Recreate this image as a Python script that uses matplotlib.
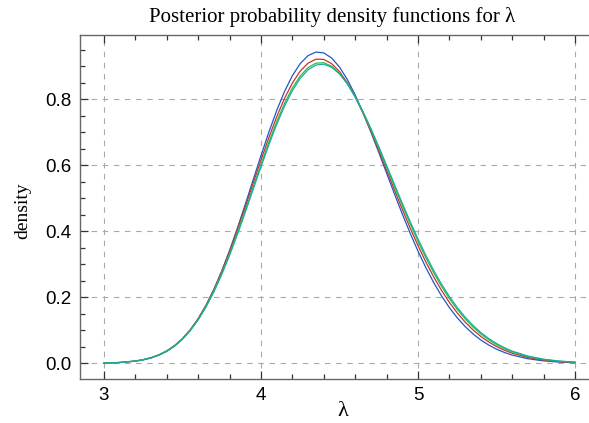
import matplotlib
matplotlib.use("Agg")
import matplotlib.pyplot as plt
from matplotlib.ticker import MultipleLocator

# lambda grid the densities were read at (finer where the curves bend)
lam = [3.0, 3.1, 3.2, 3.25, 3.3, 3.35, 3.4, 3.45, 3.5, 3.55, 3.6, 3.65,
       3.7, 3.75, 3.8, 3.85, 3.9, 3.95, 4.0, 4.05, 4.1, 4.15, 4.2, 4.25,
       4.3, 4.35, 4.4, 4.45, 4.5, 4.55, 4.6, 4.65, 4.7, 4.75, 4.8, 4.85,
       4.9, 4.95, 5.0, 5.05, 5.1, 5.15, 5.2, 5.25, 5.3, 5.35, 5.4, 5.45,
       5.5, 5.55, 5.6, 5.7, 5.8, 5.9, 6.0]

dens_blue = [0.0007, 0.0023, 0.0064, 0.0104, 0.0162, 0.0246, 0.0363, 0.0523,
             0.0734, 0.1004, 0.1343, 0.1752, 0.2237, 0.2794, 0.3418, 0.4098,
             0.4816, 0.5555, 0.6290, 0.6998, 0.7653, 0.8231, 0.8711, 0.9077,
             0.9317, 0.9424, 0.9398, 0.9243, 0.8970, 0.8592, 0.8125, 0.7589,
             0.7003, 0.6387, 0.5757, 0.5130, 0.4521, 0.3940, 0.3397, 0.2897,
             0.2444, 0.2041, 0.1686, 0.1378, 0.1115, 0.0892, 0.0707, 0.0554,
             0.0429, 0.0329, 0.0249, 0.0139, 0.0074, 0.0037, 0.0018]

dens_red = [0.0008, 0.0025, 0.0070, 0.0111, 0.0172, 0.0258, 0.0379, 0.0541,
            0.0753, 0.1024, 0.1359, 0.1763, 0.2238, 0.2782, 0.3388, 0.4045,
            0.4738, 0.5449, 0.6155, 0.6835, 0.7464, 0.8023, 0.8489, 0.8849,
            0.9090, 0.9208, 0.9201, 0.9073, 0.8832, 0.8491, 0.8065, 0.7570,
            0.7024, 0.6443, 0.5846, 0.5248, 0.4661, 0.4096, 0.3563, 0.3068,
            0.2615, 0.2207, 0.1844, 0.1526, 0.1250, 0.1014, 0.0814, 0.0647,
            0.0509, 0.0397, 0.0306, 0.0176, 0.0097, 0.0051, 0.0026]

dens_green = [0.0008, 0.0025, 0.0070, 0.0111, 0.0171, 0.0256, 0.0375, 0.0535,
              0.0743, 0.1008, 0.1336, 0.1732, 0.2196, 0.2727, 0.3319, 0.3961,
              0.4639, 0.5334, 0.6027, 0.6695, 0.7317, 0.7871, 0.8337, 0.8703,
              0.8955, 0.9088, 0.9100, 0.8995, 0.8780, 0.8465, 0.8066, 0.7597,
              0.7074, 0.6516, 0.5938, 0.5354, 0.4778, 0.4222, 0.3692, 0.3198,
              0.2742, 0.2329, 0.1959, 0.1632, 0.1347, 0.1101, 0.0891, 0.0714,
              0.0567, 0.0446, 0.0347, 0.0203, 0.0114, 0.0062, 0.0032]

dens_teal = [0.0008, 0.0025, 0.0069, 0.0109, 0.0169, 0.0253, 0.0370, 0.0527,
             0.0732, 0.0993, 0.1316, 0.1706, 0.2164, 0.2688, 0.3272, 0.3905,
             0.4575, 0.5264, 0.5951, 0.6615, 0.7234, 0.7789, 0.8258, 0.8629,
             0.8889, 0.9031, 0.9055, 0.8962, 0.8761, 0.8460, 0.8075, 0.7619,
             0.7110, 0.6562, 0.5993, 0.5417, 0.4846, 0.4292, 0.3765, 0.3269,
             0.2812, 0.2396, 0.2022, 0.1690, 0.1400, 0.1148, 0.0933, 0.0751,
             0.0599, 0.0472, 0.0369, 0.0219, 0.0124, 0.0068, 0.0035]

series = [(dens_blue, "#2257c9"), (dens_red, "#c83232"),
          (dens_green, "#26bf46"), (dens_teal, "#1aab9c")]

xticks = [3, 4, 5, 6]
yticks = [0.0, 0.2, 0.4, 0.6, 0.8]

SERIF = ["Liberation Serif", "DejaVu Serif"]
SANS = ["Liberation Sans", "DejaVu Sans"]

W, H = 589, 423
fig = plt.figure(figsize=(W / 100, H / 100), dpi=100)
fig.patch.set_facecolor("white")
# right edge of the frame sits just outside the picture
ax = fig.add_axes([80 / W, 1 - 379 / H, 519 / W, (379 - 35.5) / H])

for vals, col in series:
    ax.plot(lam, vals, color=col, lw=0.9)

ax.set_xlim(2.847, 6.153)
ax.set_ylim(-0.0475, 0.9925)
ax.set_xticks(xticks)
ax.set_xticklabels([str(t) for t in xticks], family=SANS, fontsize=13.5)
ax.set_yticks(yticks)
ax.set_yticklabels([f"{t:.1f}" for t in yticks], family=SANS, fontsize=13.5)
ax.xaxis.set_minor_locator(MultipleLocator(0.2))
ax.yaxis.set_minor_locator(MultipleLocator(0.05))
ax.tick_params(which="both", direction="in", top=True, right=False,
               color="#333333", width=0.9)
ax.tick_params(which="major", length=6, pad=6)
ax.tick_params(which="minor", length=3.5)
ax.grid(True, which="major", color="#aaaaaa", lw=0.8, ls=(0, (5, 5)))
for sp in ax.spines.values():
    sp.set_color("#666666")
    sp.set_linewidth(1.0)
ax.spines["right"].set_visible(False)

fig.text(332.5 / W, 1 - 22 / H, "Posterior probability density functions for λ",
         ha="center", va="baseline", family=SERIF, fontsize=15)
fig.text(23 / W, 1 - 210.5 / H, "density", rotation=90, ha="center",
         va="center", family=SERIF, fontsize=14)
fig.text(343 / W, 1 - 411 / H, "λ", ha="center", va="center",
         family=SERIF, fontsize=16)

fig.savefig("out.png", dpi=100)
